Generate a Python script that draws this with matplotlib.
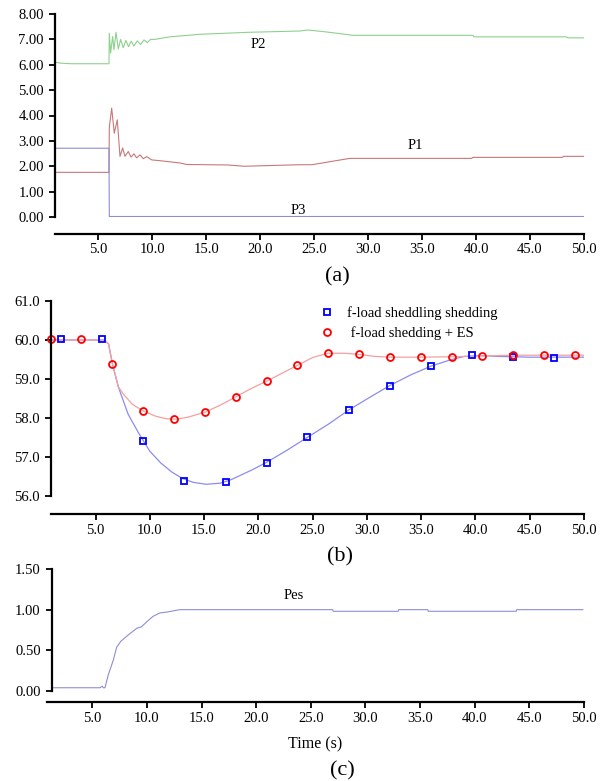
import matplotlib
matplotlib.use('Agg')
import matplotlib.pyplot as plt
from matplotlib.ticker import FormatStrFormatter

plt.rcParams['font.family'] = ['Liberation Serif', 'DejaVu Serif']

W, H = 608, 781

# ---- (a) generator powers ----
p2_t = [1.0, 1.6, 2.5, 6.0, 6.03, 6.15, 6.34, 6.46, 6.65, 6.86, 7.08, 7.32, 7.57, 7.81,
        8.06, 8.31, 8.62, 8.93, 9.24, 9.55, 9.86, 10.26, 11.65, 14.4, 19.0, 23.7, 24.4,
        26.0, 28.6, 39.7, 39.8, 48.4, 48.5, 50.0]
p2_v = [6.10, 6.06, 6.04, 6.04, 7.24, 6.46, 7.11, 6.59, 7.28, 6.62, 7.00, 6.67, 6.96, 6.71,
        6.93, 6.74, 6.94, 6.80, 6.98, 6.87, 7.00, 7.00, 7.10, 7.20, 7.28, 7.33, 7.37,
        7.30, 7.16, 7.16, 7.10, 7.10, 7.06, 7.06]

p1_t = [1.0, 6.0, 6.03, 6.25, 6.49, 6.77, 7.02, 7.27, 7.48, 7.79, 8.04, 8.31, 8.56, 8.87,
        9.18, 9.49, 9.96, 10.7, 12.57, 13.2, 17.0, 18.5, 23.7, 24.8, 28.3, 39.6, 39.7,
        48.0, 48.1, 50.0]
p1_v = [1.76, 1.76, 3.53, 4.29, 3.30, 3.83, 2.39, 2.72, 2.39, 2.58, 2.36, 2.49, 2.33, 2.45,
        2.30, 2.38, 2.25, 2.22, 2.13, 2.07, 2.05, 2.00, 2.06, 2.06, 2.31, 2.31, 2.35,
        2.35, 2.39, 2.39]

p3_t = [1.0, 6.0, 6.03, 50.0]
p3_v = [2.71, 2.71, 0.02, 0.02]

# ---- (b) frequency ----
fb_t = [0.9, 5.8, 6.2, 6.55, 7.1, 8.0, 9.0, 10.0, 11.0, 12.0, 13.0, 14.0, 15.2, 16.5, 17.5,
        18.5, 19.5, 20.8, 22.5, 24.5, 26.5, 28.3, 30.2, 32.1, 34.0, 35.9, 37.8, 39.0,
        40.5, 42.0, 45.0, 50.0]
fb_v = [60.0, 60.0, 59.9, 59.4, 58.8, 58.1, 57.6, 57.15, 56.85, 56.62, 56.45, 56.35, 56.3,
        56.33, 56.42, 56.55, 56.68, 56.87, 57.15, 57.5, 57.85, 58.2, 58.52, 58.83, 59.1,
        59.33, 59.5, 59.58, 59.6, 59.58, 59.56, 59.56]
fb_mt = [1.82, 5.62, 9.4, 13.17, 16.99, 20.76, 24.5, 28.34, 32.12, 35.89, 39.7, 43.48, 47.25]
fb_mv = [60.02, 60.02, 57.41, 56.39, 56.37, 56.85, 57.52, 58.21, 58.82, 59.33, 59.61, 59.56,
         59.53]

fes_t = [0.9, 5.8, 6.2, 6.55, 7.1, 7.6, 8.4, 9.4, 10.5, 11.5, 12.5, 13.5, 15.1, 16.5, 17.9,
         19.3, 20.8, 22.2, 23.6, 25.0, 26.4, 28.0, 29.3, 30.7, 32.1, 35.0, 37.8, 40.6,
         43.5, 50.0]
fes_v = [60.0, 60.0, 59.9, 59.4, 58.8, 58.6, 58.35, 58.18, 58.05, 57.98, 57.97, 58.02,
         58.15, 58.33, 58.54, 58.75, 58.95, 59.15, 59.35, 59.55, 59.66, 59.66, 59.63, 59.58,
         59.56, 59.56, 59.57, 59.59, 59.61, 59.61]
fes_mt = [0.9, 3.66, 6.55, 9.4, 12.23, 15.08, 17.91, 20.76, 23.58, 26.44, 29.26, 32.12,
          34.97, 37.8, 40.6, 43.5, 46.33, 49.15]
fes_mv = [60.02, 60.02, 59.38, 58.18, 57.97, 58.15, 58.54, 58.95, 59.35, 59.66, 59.64, 59.56,
          59.56, 59.57, 59.59, 59.62, 59.61, 59.61]

# ---- (c) storage power ----
pes_t = [1.3, 5.7, 5.9, 6.0, 6.16, 6.46, 6.92, 7.23, 7.6, 8.29, 9.06, 9.5, 9.97, 10.58,
         11.19, 11.8, 13.0, 27.0, 27.05, 33.0, 33.05, 35.7, 35.75, 43.8, 43.85, 49.9]
pes_v = [0.04, 0.04, 0.06, 0.04, 0.04, 0.20, 0.38, 0.54, 0.61, 0.69, 0.77, 0.79, 0.85, 0.92,
         0.96, 0.97, 1.00, 1.00, 0.98, 0.98, 1.00, 1.00, 0.98, 0.98, 1.00, 1.00]

x_ticks = [5.0, 10.0, 15.0, 20.0, 25.0, 30.0, 35.0, 40.0, 45.0, 50.0]


def box(left, right, top, bottom):
    return [left / W, 1 - bottom / H, (right - left) / W, (bottom - top) / H]


def style(ax, xlim, ylim, yticks, yfmt, offset):
    ax.set_xlim(*xlim)
    ax.set_ylim(*ylim)
    ax.spines['top'].set_visible(False)
    ax.spines['right'].set_visible(False)
    ax.spines['bottom'].set_position(('outward', offset))
    ax.spines['left'].set_linewidth(1.6)
    ax.spines['bottom'].set_linewidth(1.6)
    ax.set_yticks(yticks)
    ax.yaxis.set_major_formatter(FormatStrFormatter(yfmt))
    ax.set_xticks(x_ticks)
    ax.xaxis.set_major_formatter(FormatStrFormatter('%.1f'))
    ax.tick_params(direction='out', length=4, width=1.3, labelsize=10.5, pad=4)
    ax.tick_params(axis='x', pad=3)


fig = plt.figure(figsize=(W / 100, H / 100), dpi=100)

ax1 = fig.add_axes(box(55, 584, 14, 217))
ax1.plot(p2_t, p2_v, color='#8fd08f', lw=0.8)
ax1.plot(p1_t, p1_v, color='#c87878', lw=0.8)
ax1.plot(p3_t, p3_v, color='#8c8cd8', lw=0.8)
ax1.text(19.8, 6.8, 'P2', fontsize=10.5, ha='center', va='center')
ax1.text(34.4, 2.8, 'P1', fontsize=10.5, ha='center', va='center')
ax1.text(23.5, 0.27, 'P3', fontsize=10.5, ha='center', va='center')
style(ax1, (1.0, 50.0), (0, 8), [0, 1, 2, 3, 4, 5, 6, 7, 8], '%.2f', 12)

ax2 = fig.add_axes(box(51, 584, 301, 496))
ax2.plot(fb_t, fb_v, color='#8c8cf0', lw=0.9)
ax2.plot(fes_t, fes_v, color='#f4a0a0', lw=0.9)
ax2.plot(fb_mt, fb_mv, ls='none', marker='s', ms=5, mfc='none', mec='#0000ff', mew=1.3,
         label='f-load sheddling shedding', clip_on=False)
ax2.plot(fes_mt, fes_mv, ls='none', marker='o', ms=5, mfc='none', mec='#ff0000', mew=1.3,
         label=' f-load shedding + ES', clip_on=False)
style(ax2, (0.9, 50.0), (56, 61), [56, 57, 58, 59, 60, 61], '%.1f', 13)
ax2.legend(loc='upper left', bbox_to_anchor=(312 / W, 1 - 299 / H),
           bbox_transform=fig.transFigure, frameon=False, fontsize=10.5,
           handlelength=1.0, handletextpad=0.9, labelspacing=0.4, borderpad=0)

ax3 = fig.add_axes(box(47, 584, 569, 691))
ax3.plot(pes_t, pes_v, color='#8e8ed4', lw=0.8)
ax3.text(23.45, 1.18, 'Pes', fontsize=10.5, ha='center', va='center')
style(ax3, (0.85, 50.0), (0, 1.5), [0, 0.5, 1.0, 1.5], '%.2f', 8)
ax3.spines['left'].set_position(('data', 1.3))
ax3.set_xlabel('Time (s)', fontsize=11.5, labelpad=8)

fig.text(337 / W, 1 - 277 / H, '(a)', fontsize=16, ha='center', va='center')
fig.text(340 / W, 1 - 557 / H, '(b)', fontsize=16, ha='center', va='center')
fig.text(342 / W, 1 - 771 / H, '(c)', fontsize=16, ha='center', va='center')

fig.savefig('out.png', dpi=100)
